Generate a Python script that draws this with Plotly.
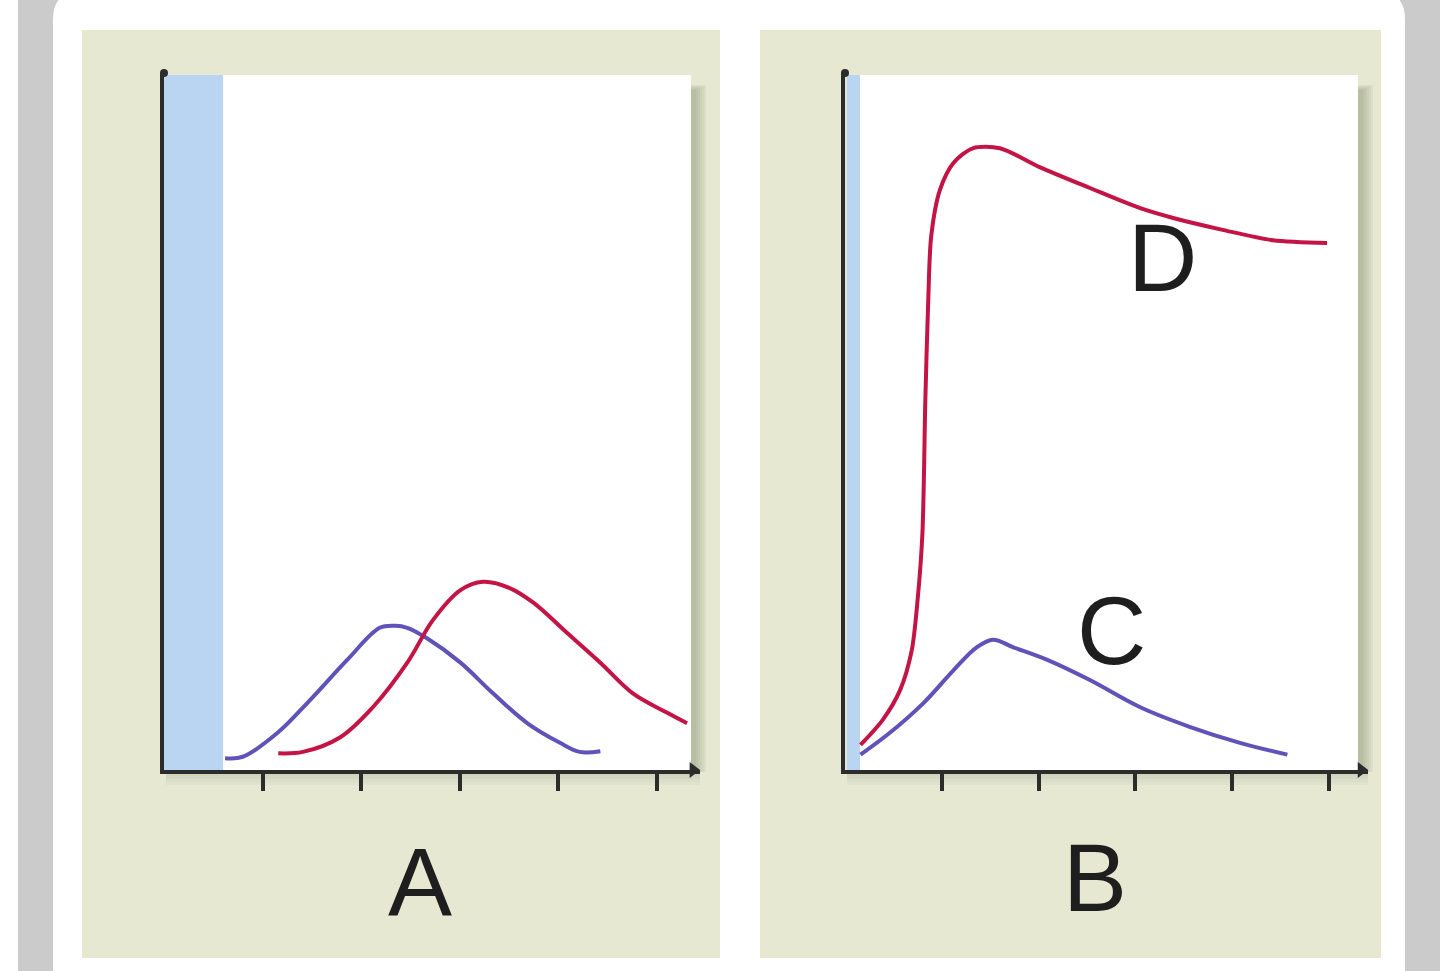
import plotly.graph_objects as go

W, H = 1440, 971

# ---------------- data ----------------
# Panel A (x in tick units, y in % of axis height)
a_blue_x = [0.62, 0.80, 1.15, 1.48, 1.86, 2.19, 2.35, 2.47, 2.67, 3.01, 3.34, 3.69, 4.02, 4.22, 4.43]
a_blue_y = [1.7, 1.9, 5.3, 10.0, 15.8, 20.4, 20.7, 20.4, 18.9, 15.4, 11.0, 6.7, 3.9, 2.6, 2.7]
a_red_x = [1.16, 1.41, 1.79, 2.12, 2.47, 2.73, 3.01, 3.24, 3.51, 3.75, 4.09, 4.43, 4.76, 5.11, 5.31]
a_red_y = [2.4, 2.6, 4.7, 9.0, 15.4, 21.5, 25.8, 27.0, 26.1, 24.0, 19.7, 15.4, 11.0, 8.2, 6.7]

# Panel B
b_red_x = [0.16, 0.39, 0.57, 0.69, 0.75, 0.80, 0.83, 0.86, 0.89, 0.98, 1.12, 1.32, 1.60, 2.01, 2.53, 3.05, 3.39, 3.90, 4.42, 4.98]
b_red_y = [3.6, 7.2, 11.5, 17.2, 24.4, 34.0, 53.1, 67.4, 76.5, 83.2, 87.1, 89.2, 89.2, 86.5, 83.5, 80.6, 79.2, 77.5, 76.0, 75.6]
b_blue_x = [0.16, 0.46, 0.81, 1.12, 1.36, 1.53, 1.74, 2.09, 2.53, 3.05, 3.56, 4.08, 4.57]
b_blue_y = [2.2, 5.3, 9.6, 14.3, 17.6, 18.7, 17.6, 15.8, 12.9, 9.0, 6.2, 3.9, 2.2]

tick_vals = [1, 2, 3, 4, 5]
band_a = [0.0, 0.6]
band_b = [0.02, 0.155]
panel_labels = ["A", "B"]
curve_labels = ["C", "D"]

# ---------------- styles ----------------
RED = "#c41446"
BLUE = "#5f52b8"
BEIGE = "#e6e8d2"
GRAY = "#cbcbcb"
BAND = "#b9d5f1"
AX = "#2c2c2c"
FONT = "Liberation Sans, Arial, sans-serif"


def px(x):
    return x / W


def py(y):
    return 1 - y / H


def rrect(x0, y0, x1, y1, r):
    return (f"M {px(x0 + r)},{py(y0)} L {px(x1 - r)},{py(y0)} "
            f"Q {px(x1)},{py(y0)} {px(x1)},{py(y0 + r)} "
            f"L {px(x1)},{py(y1 - r)} Q {px(x1)},{py(y1)} {px(x1 - r)},{py(y1)} "
            f"L {px(x0 + r)},{py(y1)} Q {px(x0)},{py(y1)} {px(x0)},{py(y1 - r)} "
            f"L {px(x0)},{py(y0 + r)} Q {px(x0)},{py(y0)} {px(x0 + r)},{py(y0)} Z")


def prect(x0, y0, x1, y1, color, opacity=1.0):
    return dict(type="rect", xref="paper", yref="paper",
                x0=px(x0), x1=px(x1), y0=py(y1), y1=py(y0),
                fillcolor=color, opacity=opacity, line=dict(width=0), layer="below")


shapes = []
shapes.append(dict(type="path", xref="paper", yref="paper", path=rrect(18, -100, 1500, 1100, 40),
                   fillcolor=GRAY, line=dict(width=0), layer="below"))
shapes.append(dict(type="path", xref="paper", yref="paper", path=rrect(53, -10, 1405, 1100, 30),
                   fillcolor="white", line=dict(width=0), layer="below"))
shapes.append(prect(82, 30, 720, 958, BEIGE))
shapes.append(prect(760, 30, 1381, 958, BEIGE))

# soft shadows right of / below the plot areas
for (xr, yt) in [(691, 85), (1358, 85)]:
    for i in range(6):
        shapes.append(prect(xr, yt + i, xr + 15 - 2 * i, 772, "#8e937a", 0.10))
for (xl, xr) in [(166, 700), (847, 1368)]:
    for i in range(4):
        shapes.append(prect(xl, 770, xr, 776 + 3 * i, "#9ca088", 0.08))

shapes.append(prect(166, 75, 691, 770, "white"))
shapes.append(prect(847, 75, 1358, 770, "white"))

# blue bands (data coords)
shapes.append(dict(type="rect", xref="x", yref="y", x0=band_a[0], x1=band_a[1], y0=0, y1=99.7,
                   fillcolor=BAND, line=dict(width=0), layer="below"))
shapes.append(dict(type="rect", xref="x2", yref="y2", x0=band_b[0], x1=band_b[1], y0=0, y1=99.7,
                   fillcolor=BAND, line=dict(width=0), layer="below"))

fig = go.Figure()

line_kw = dict(width=4, shape="spline", smoothing=1.0)
fig.add_trace(go.Scatter(x=a_blue_x, y=a_blue_y, mode="lines", line=dict(color=BLUE, **line_kw),
                         xaxis="x", yaxis="y", hoverinfo="skip"))
fig.add_trace(go.Scatter(x=a_red_x, y=a_red_y, mode="lines", line=dict(color=RED, **line_kw),
                         xaxis="x", yaxis="y", hoverinfo="skip"))
fig.add_trace(go.Scatter(x=b_blue_x, y=b_blue_y, mode="lines", line=dict(color=BLUE, **line_kw),
                         xaxis="x2", yaxis="y2", hoverinfo="skip"))
fig.add_trace(go.Scatter(x=b_red_x, y=b_red_y, mode="lines",
                         line=dict(color=RED, width=4, shape="spline", smoothing=0.8),
                         xaxis="x2", yaxis="y2", hoverinfo="skip"))

# arrow heads
xa_max = (700 - 164) / 98.5
xb_max = (1368 - 845) / 96.8
fig.add_trace(go.Scatter(x=[xa_max - 0.07], y=[0], mode="markers", cliponaxis=False,
                         marker=dict(symbol="triangle-right", size=14, color=AX),
                         xaxis="x", yaxis="y", hoverinfo="skip"))
fig.add_trace(go.Scatter(x=[xb_max - 0.07], y=[0], mode="markers", cliponaxis=False,
                         marker=dict(symbol="triangle-right", size=14, color=AX),
                         xaxis="x2", yaxis="y2", hoverinfo="skip"))
fig.add_trace(go.Scatter(x=[0], y=[100], mode="markers", cliponaxis=False,
                         marker=dict(symbol="circle", size=8, color=AX),
                         xaxis="x", yaxis="y", hoverinfo="skip"))
fig.add_trace(go.Scatter(x=[0], y=[100], mode="markers", cliponaxis=False,
                         marker=dict(symbol="circle", size=8, color=AX),
                         xaxis="x2", yaxis="y2", hoverinfo="skip"))

xax = dict(showgrid=False, zeroline=False, showline=True, linecolor=AX, linewidth=4,
           ticks="outside", ticklen=17, tickwidth=4, tickcolor=AX, tickvals=tick_vals,
           showticklabels=False, fixedrange=True)
yax = dict(showgrid=False, zeroline=False, showline=True, linecolor=AX, linewidth=4,
           ticks="", showticklabels=False, range=[0, 100], fixedrange=True,
           domain=[py(770), py(73)])

annotations = [
    dict(text=panel_labels[0], x=px(420), y=py(881), xref="paper", yref="paper", showarrow=False,
         font=dict(family=FONT, size=96, color="#1e1e1e"), xanchor="center", yanchor="middle"),
    dict(text=panel_labels[1], x=px(1095), y=py(877), xref="paper", yref="paper", showarrow=False,
         font=dict(family=FONT, size=96, color="#1e1e1e"), xanchor="center", yanchor="middle"),
    dict(text=curve_labels[0], x=px(1111), y=py(630), xref="paper", yref="paper", showarrow=False,
         font=dict(family=FONT, size=96, color="#1e1e1e"), xanchor="center", yanchor="middle"),
    dict(text=curve_labels[1], x=px(1162), y=py(257), xref="paper", yref="paper", showarrow=False,
         font=dict(family=FONT, size=96, color="#1e1e1e"), xanchor="center", yanchor="middle"),
]

fig.update_layout(
    width=W, height=H, margin=dict(l=0, r=0, t=0, b=0),
    paper_bgcolor="white", plot_bgcolor="rgba(0,0,0,0)",
    showlegend=False,
    xaxis=dict(xax, domain=[px(164), px(700)], range=[0, xa_max], anchor="y"),
    yaxis=dict(yax, anchor="x"),
    xaxis2=dict(xax, domain=[px(845), px(1368)], range=[0, xb_max], anchor="y2"),
    yaxis2=dict(yax, anchor="x2"),
    shapes=shapes,
    annotations=annotations,
)

fig.write_html("out.html", config=dict(displayModeBar=False))
